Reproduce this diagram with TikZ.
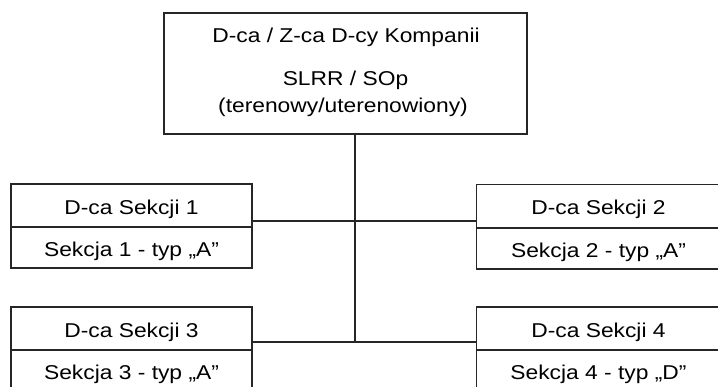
\documentclass[tikz,border=0pt]{standalone}
\usepackage{fontspec}
\setmainfont{Liberation Sans}[FakeStretch=1.14]
\begin{document}
\begin{tikzpicture}[x=1pt,y=-1pt,
  box/.style={draw=black!85, line width=1.3pt, rectangle, inner sep=0pt, outer sep=0pt},
  cell/.style={box, text height=17.5pt, text depth=0pt, font=\fontsize{20}{24}\selectfont},
  lcell/.style={cell, minimum width=241pt},
  rcell/.style={cell, minimum width=244pt},
  lbl/.style={anchor=base, inner sep=0pt, font=\fontsize{20}{24}\selectfont},
  wire/.style={draw=black!85, line width=1.3pt}]
\clip (0,0) rectangle (718,387);
\fill[white] (0,0) rectangle (718,387);
% top box
\node[box, minimum width=363pt, minimum height=121pt] (top) at (345.5,73.5) {};
\node[lbl] (t1) at (346,42.3) {D-ca / Z-ca D-cy Kompanii};
\node[lbl] (t2) at (345.5,86) {SLRR / SOp};
\node[lbl] (t3) at (343,113) {(terenowy/uterenowiony)};
% section boxes
\node[lcell, minimum height=43pt] (head1) at (131.5,205.5) {D-ca Sekcji 1};
\node[lcell, minimum height=41pt] (body1) at (131.5,247.5) {Sekcja 1 - typ „A”};
\node[rcell, minimum height=43pt] (head2) at (598.5,206) {D-ca Sekcji 2};
\node[rcell, minimum height=41pt] (body2) at (598.5,248.5) {Sekcja 2 - typ „A”};
\node[lcell, minimum height=43pt] (head3) at (131.5,328.5) {D-ca Sekcji 3};
\node[lcell, minimum height=42pt] (body3) at (131.5,371) {Sekcja 3 - typ „A”};
\node[rcell, minimum height=43pt] (head4) at (598.5,328.5) {D-ca Sekcji 4};
\node[rcell, minimum height=42pt] (body4) at (598.5,371) {Sekcja 4 - typ „D”};
% connectors
\coordinate (hub1) at (355,221);
\coordinate (hub2) at (355,342);
\draw[wire] (top.south -| hub1) -- (hub2);
\draw[wire] (head1.east |- hub1) -- (head2.west |- hub1);
\draw[wire] (head3.east |- hub2) -- (head4.west |- hub2);
\end{tikzpicture}
\end{document}
